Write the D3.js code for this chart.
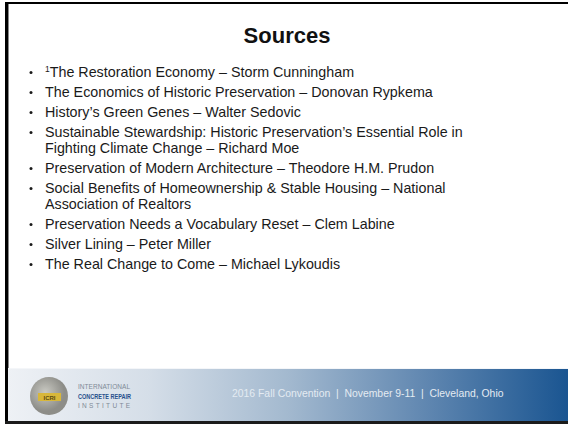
<!DOCTYPE html>
<html lang="en">
<head>
    <meta charset="UTF-8">
    <title>Sources</title>
    <style>
        body { margin: 0; background: #fff; }
        svg { display: block; }
        .item { font-family: 'Liberation Sans', Arial, sans-serif; font-size: 14.3px; fill: #1a1a1a; }
        .title { font-family: 'Liberation Sans', Arial, sans-serif; font-size: 22px; font-weight: bold; fill: #111; }
    </style>
</head>
<body>
    <svg id="slide"></svg>

    <script src="https://d3js.org/d3.v7.min.js"></script>
    <script>
        // Slide content
        const slideTitle = "Sources";
        const sourceLines = [
            ["The Restoration Economy \u2013 Storm Cunningham"],
            ["The Economics of Historic Preservation \u2013 Donovan Rypkema"],
            ["History\u2019s Green Genes \u2013 Walter Sedovic"],
            ["Sustainable Stewardship: Historic Preservation\u2019s Essential Role in",
             "Fighting Climate Change \u2013 Richard Moe"],
            ["Preservation of Modern Architecture \u2013 Theodore H.M. Prudon"],
            ["Social Benefits of Homeownership & Stable Housing \u2013 National",
             "Association of Realtors"],
            ["Preservation Needs a Vocabulary Reset \u2013 Clem Labine"],
            ["Silver Lining \u2013 Peter Miller"],
            ["The Real Change to Come \u2013 Michael Lykoudis"]
        ];
        const footnoteMarks = ["1", "", "", "", "", "", "", "", ""];
        const footerText = "2016 Fall Convention  |  November 9-11  |  Cleveland, Ohio";
        const logoLines = ["INTERNATIONAL", "CONCRETE REPAIR", "INSTITUTE"];

        const W = 568, H = 424;
        const svg = d3.select("#slide").attr("width", W).attr("height", H);
        const defs = svg.append("defs");

        // slide frame (black edge on left/top/bottom)
        svg.append("rect").attr("x", 0).attr("y", 0).attr("width", W).attr("height", H).attr("fill", "#fff");
        svg.append("rect").attr("x", 5).attr("y", 2).attr("width", W - 5).attr("height", 2).attr("fill", "#000");
        svg.append("rect").attr("x", 5).attr("y", 2).attr("width", 3).attr("height", H - 2).attr("fill", "#000");
        svg.append("rect").attr("x", 8).attr("y", 4).attr("width", 1).attr("height", H - 6).attr("fill", "#888");

        // title
        svg.append("text")
            .attr("class", "title")
            .attr("x", 287)
            .attr("y", 43)
            .attr("text-anchor", "middle")
            .text(slideTitle);

        // row layout: one unit per bullet, smaller step for wrapped lines
        const rows = [];
        let pos = 0;
        sourceLines.forEach((lines, i) => {
            lines.forEach((line, j) => {
                rows.push({ item: i, line: j, text: line, pos: pos });
                pos += (j < lines.length - 1) ? 0.8 : 1;
            });
        });
        const y = d3.scaleLinear().domain([0, 1]).range([72, 92]);

        const g = svg.append("g");
        g.selectAll(".bullet")
            .data(rows.filter(d => d.line === 0))
            .enter().append("circle")
            .attr("class", "bullet")
            .attr("cx", 31)
            .attr("cy", d => y(d.pos) + 0.5)
            .attr("r", 1.5)
            .attr("fill", "#1a1a1a");

        const txt = g.selectAll(".item")
            .data(rows)
            .enter().append("text")
            .attr("class", "item")
            .attr("x", 45)
            .attr("y", d => y(d.pos) + 5);
        txt.filter(d => d.line === 0 && footnoteMarks[d.item])
            .append("tspan")
            .attr("font-size", "8.5px")
            .attr("dy", -5)
            .text(d => footnoteMarks[d.item]);
        txt.filter(d => d.line === 0 && footnoteMarks[d.item])
            .append("tspan")
            .attr("dy", 5)
            .text(d => d.text);
        txt.filter(d => !(d.line === 0 && footnoteMarks[d.item]))
            .text(d => d.text);

        // footer band
        const grad = defs.append("linearGradient").attr("id", "band");
        [["0%", "#eef1f5"], ["25%", "#d5dee8"], ["50%", "#a3b9cf"], ["75%", "#5f86b0"], ["100%", "#1a5591"]]
            .forEach(s => grad.append("stop").attr("offset", s[0]).attr("stop-color", s[1]));
        svg.append("rect").attr("x", 8).attr("y", 368).attr("width", W - 8).attr("height", 53).attr("fill", "url(#band)");
        svg.append("rect").attr("x", 8).attr("y", 368).attr("width", W - 8).attr("height", 1).attr("fill", "#f4f6f9");
        svg.append("rect").attr("x", 5).attr("y", 421).attr("width", W - 5).attr("height", 3).attr("fill", "#1b1b1b");

        svg.append("text")
            .attr("x", 232)
            .attr("y", 397)
            .attr("font-family", "'Liberation Sans', Arial, sans-serif")
            .attr("font-size", "10.4px")
            .attr("fill", "#e4ebf2")
            .attr("xml:space", "preserve")
            .style("white-space", "pre")
            .text(footerText);

        // logo
        const rg = defs.append("radialGradient").attr("id", "globe").attr("cx", "40%").attr("cy", "40%");
        rg.append("stop").attr("offset", "0%").attr("stop-color", "#c9c9c2");
        rg.append("stop").attr("offset", "100%").attr("stop-color", "#8d8d88");
        svg.append("circle").attr("cx", 49).attr("cy", 396).attr("r", 19).attr("fill", "url(#globe)");
        svg.append("rect").attr("x", 38).attr("y", 393).attr("width", 23).attr("height", 8).attr("fill", "#d8b73a");
        svg.append("text").attr("x", 49.5).attr("y", 399.5).attr("text-anchor", "middle")
            .attr("font-family", "'Liberation Sans', Arial, sans-serif").attr("font-size", "6px")
            .attr("font-weight", "bold").attr("fill", "#5a4a10").text("ICRI");

        const logoStyle = [
            { y: 389, size: 6.5, weight: "normal", fill: "#7f8a96", len: 52 },
            { y: 399, size: 7, weight: "bold", fill: "#274f8c", len: 53 },
            { y: 407.5, size: 6.5, weight: "normal", fill: "#7f8a96", len: 52 }
        ];
        svg.selectAll(".logo-text")
            .data(logoLines)
            .enter().append("text")
            .attr("class", "logo-text")
            .attr("x", 78)
            .attr("y", (d, i) => logoStyle[i].y)
            .attr("font-family", "'Liberation Sans', Arial, sans-serif")
            .attr("font-size", (d, i) => logoStyle[i].size + "px")
            .attr("font-weight", (d, i) => logoStyle[i].weight)
            .attr("textLength", (d, i) => logoStyle[i].len)
            .attr("lengthAdjust", (d, i) => i === 1 ? "spacingAndGlyphs" : "spacing")
            .attr("fill", (d, i) => logoStyle[i].fill)
            .text(d => d);
    </script>
</body>
</html>
